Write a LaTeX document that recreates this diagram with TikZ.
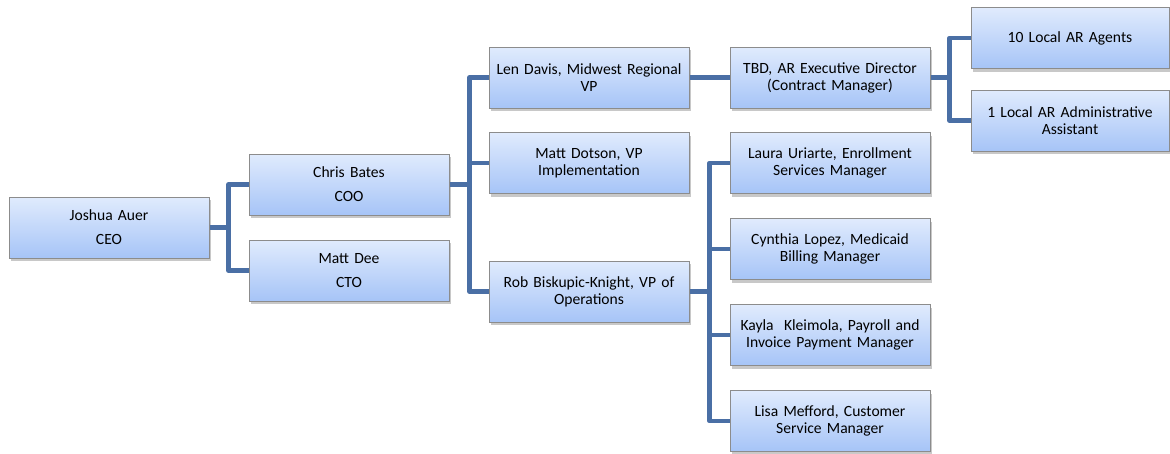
\documentclass[tikz,border=0pt]{standalone}
\usepackage{fontspec}
\setmainfont{Carlito}
\usetikzlibrary{shadows}
\definecolor{lineblue}{HTML}{4A6FA5}
\definecolor{boxtop}{HTML}{E0EBFD}
\definecolor{boxbot}{HTML}{A6C4F7}
\definecolor{boxedge}{HTML}{8C8C8C}
\begin{document}
\begin{tikzpicture}[x=1pt,y=-1pt,
  box/.style={draw=boxedge, line width=1pt, top color=boxtop, bottom color=boxbot,
    minimum width=200pt, minimum height=61pt, text width=196pt, align=center,
    inner sep=0pt, font=\fontsize{15.6}{17}\selectfont,
    drop shadow={shadow xshift=1.5pt, shadow yshift=-3pt, opacity=0.3, fill=black!70}},
  conn/.style={draw=lineblue, line width=4.5pt, line join=round}
]
\useasboundingbox (0,0) rectangle (1170,453);
\fill[white] (0,0) rectangle (1170,453);
% level 1
\node[box] (ceo) at (109,227.5) {Joshua Auer\\[7pt]CEO};
% level 2
\node[box] (coo) at (349,184.5) {Chris Bates\\[7pt]COO};
\node[box] (cto) at (349,270.5) {Matt Dee\\[7pt]CTO};
% level 3
\node[box] (len) at (589,77.5) {Len Davis, Midwest Regional\\VP};
\node[box] (dot) at (589,163) {Matt Dotson, VP\\Implementation};
\node[box] (rob) at (589,291.5) {Rob Biskupic-Knight, VP of\\Operations};
% level 4
\node[box] (tbd) at (830,77.5) {TBD, AR Executive Director\\(Contract Manager)};
\node[box] (lau) at (830,163) {Laura Uriarte, Enrollment\\Services Manager};
\node[box] (cyn) at (830,249) {Cynthia Lopez, Medicaid\\Billing Manager};
\node[box] (kay) at (830,335) {Kayla\ \ Kleimola, Payroll and\\Invoice Payment Manager};
\node[box] (lis) at (830,421) {Lisa Mefford, Customer\\Service Manager};
% level 5
\node[box, minimum width=198pt] (agt) at (1070,38) {10 Local AR Agents};
\node[box, minimum width=198pt] (asst) at (1070,120.5) {1 Local AR Administrative\\Assistant};
% connectors
\draw[conn] (ceo.east) -- ++(20,0);
\draw[conn] (coo.west) -- ++(-20,0) |- (cto.west);
\draw[conn] (coo.east) -- ++(21,0);
\draw[conn] (len.west) -- ++(-19,0) |- (rob.west);
\draw[conn] (dot.west) -- ++(-19,0);
\draw[conn] (len.east) -- (tbd.west);
\draw[conn] (tbd.east) -- ++(20,0);
\draw[conn] (agt.west) -- ++(-21,0) |- (asst.west);
\draw[conn] (rob.east) -- ++(21,0);
\draw[conn] (lau.west) -- ++(-20,0) |- (lis.west);
\draw[conn] (cyn.west) -- ++(-20,0);
\draw[conn] (kay.west) -- ++(-20,0);
\end{tikzpicture}
\end{document}
